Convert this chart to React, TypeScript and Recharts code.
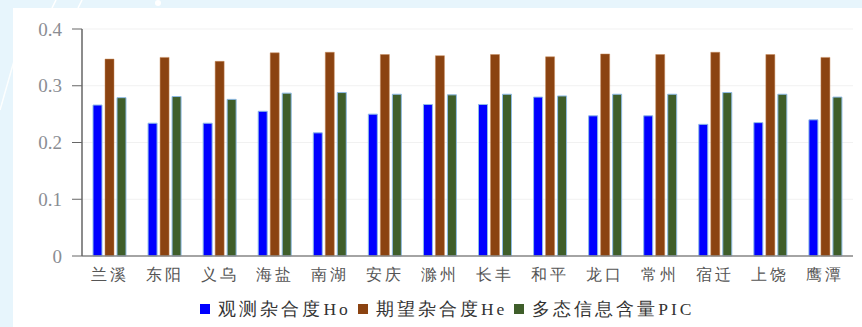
import React from "react";
import { BarChart, Bar, XAxis, YAxis, CartesianGrid, Legend } from "recharts";

const categories = ["兰溪", "东阳", "义乌", "海盐", "南湖", "安庆", "滁州", "长丰", "和平", "龙口", "常州", "宿迁", "上饶", "鹰潭"];
const hoValues = [0.266, 0.234, 0.234, 0.255, 0.217, 0.25, 0.267, 0.267, 0.28, 0.247, 0.247, 0.232, 0.235, 0.24];
const heValues = [0.347, 0.35, 0.343, 0.358, 0.359, 0.355, 0.353, 0.355, 0.351, 0.356, 0.355, 0.359, 0.355, 0.35];
const picValues = [0.279, 0.281, 0.276, 0.287, 0.288, 0.285, 0.284, 0.285, 0.282, 0.285, 0.285, 0.288, 0.285, 0.28];
const yTicks = [0, 0.1, 0.2, 0.3, 0.4];
const seriesNames = ["观测杂合度Ho", "期望杂合度He", "多态信息含量PIC"];
const seriesColors = ["#0000ff", "#8b4311", "#3f5e2a"];

const data = categories.map((c, i) => ({
  name: c,
  ho: hoValues[i],
  he: heValues[i],
  pic: picValues[i],
}));

const serif = "'Liberation Serif', 'Times New Roman', 'DejaVu Serif', serif";

const LegendContent = () => (
  <div style={{ display: "flex", justifyContent: "center", alignItems: "center", fontFamily: serif, fontSize: 17.5, color: "#333", paddingLeft: 36 }}>
    {seriesNames.map((n, i) => (
      <div key={n} style={{ display: "flex", alignItems: "center", marginRight: 7 }}>
        <span style={{ display: "inline-block", width: 10, height: 10, background: seriesColors[i], marginRight: 8 }} />
        <span style={{ letterSpacing: 3 }}>{n}</span>
      </div>
    ))}
  </div>
);

const yFmt = (v: number) => (v === 0 ? "0" : v.toFixed(1));

export default function App() {
  return (
    <div style={{ position: "fixed", left: 0, top: 0, width: 862, height: 327, background: "#e7f5fc", overflow: "hidden", fontFamily: serif }}>
      <svg width={862} height={327} style={{ position: "absolute", left: 0, top: 0 }}>
        <line x1={0} y1={110} x2={20} y2={40} stroke="#ffffff" strokeWidth={1.5} opacity={0.9} />
        <line x1={52} y1={8} x2={56} y2={0} stroke="#ffffff" strokeWidth={1.5} />
        <line x1={78} y1={8} x2={82} y2={0} stroke="#ffffff" strokeWidth={1.5} />
        <circle cx={158} cy={3} r={3} fill="#ffffff" />
      </svg>
      <div style={{ position: "absolute", left: 13, top: 8, width: 849, height: 319, background: "#ffffff", fontFamily: serif }}>
        <BarChart
          width={849}
          height={319}
          data={data}
          margin={{ top: 21, right: 9, left: 0, bottom: 0 }}
          barGap={3}
          barCategoryGap="19%"
          style={{ fontFamily: serif }}
        >
          <CartesianGrid horizontal vertical={false} stroke="#f1f1f1" />
          <XAxis
            dataKey="name"
            height={32}
            tickLine={false}
            axisLine={{ stroke: "#888", strokeWidth: 1.5 }}
            interval={0}
            tick={{ fill: "#555", fontSize: 16, fontFamily: serif, letterSpacing: 3 }}
            tickMargin={7}
          />
          <YAxis
            width={69}
            domain={[0, 0.4]}
            ticks={yTicks}
            tickFormatter={yFmt}
            tickSize={10}
            tickMargin={10}
            axisLine={{ stroke: "#666", strokeWidth: 1.5 }}
            tickLine={{ stroke: "#666" }}
            tick={{ fill: "#8a8d93", fontSize: 19, fontFamily: serif }}
          />
          <Legend verticalAlign="bottom" content={<LegendContent />} wrapperStyle={{ height: 30, paddingTop: 9 }} />
          <Bar dataKey="ho" name={seriesNames[0]} fill={seriesColors[0]} stroke="#8fbbe6" strokeWidth={1} barSize={9} isAnimationActive={false} />
          <Bar dataKey="he" name={seriesNames[1]} fill={seriesColors[1]} stroke="#c98a5a" strokeWidth={0.5} barSize={9} isAnimationActive={false} />
          <Bar dataKey="pic" name={seriesNames[2]} fill={seriesColors[2]} stroke="#8fbbe6" strokeWidth={1} barSize={9} isAnimationActive={false} />
        </BarChart>
      </div>
    </div>
  );
}
